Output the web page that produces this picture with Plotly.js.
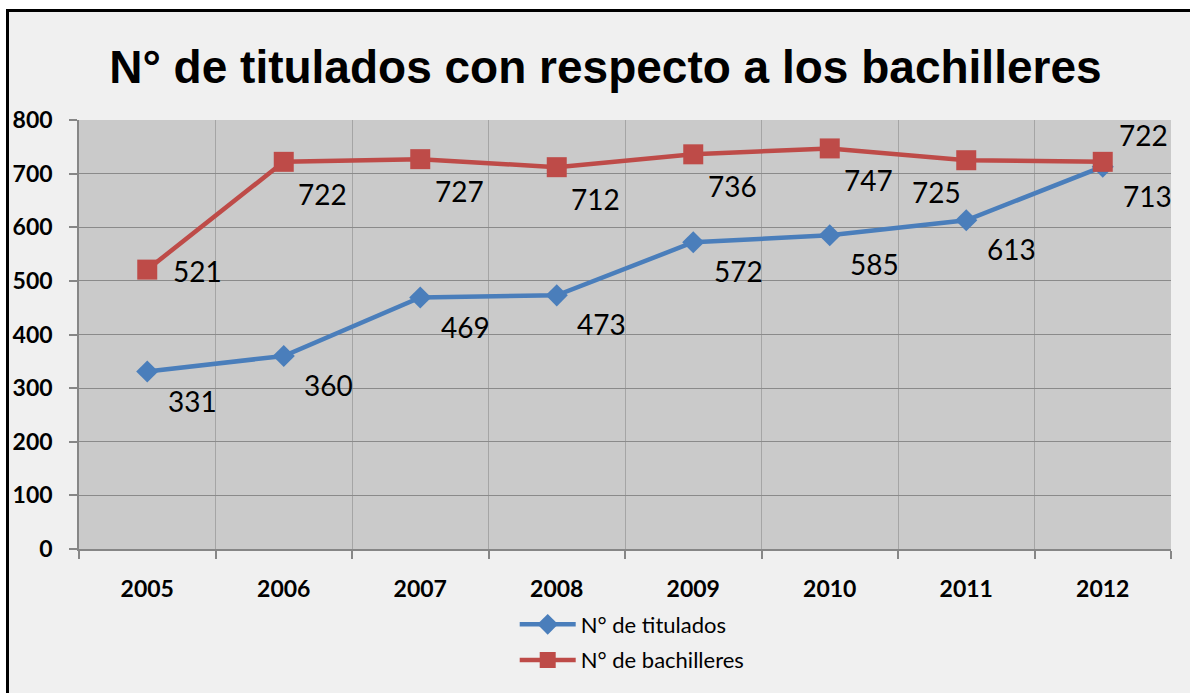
<!DOCTYPE html>
<html>
<head>
<meta charset="utf-8">
<script src="https://cdn.plot.ly/plotly-3.0.1.min.js"></script>
<style>
  html, body { margin: 0; padding: 0; background: #ffffff; }
  #frame { position: absolute; left: 6px; top: 9px; width: 1184px; height: 684px;
           border-top: 3px solid #000; border-left: 3px solid #000; box-sizing: border-box; }
  #chart { position: absolute; left: 0; top: 0; width: 1181px; height: 681px; }
</style>
</head>
<body>
<div id="frame"><div id="chart"></div></div>
<script>
// ---- data ----
var years = ['2005', '2006', '2007', '2008', '2009', '2010', '2011', '2012'];
var titulados = [331, 360, 469, 473, 572, 585, 613, 713];
var bachilleres = [521, 722, 727, 712, 736, 747, 725, 722];
var seriesNames = ['N° de titulados', 'N° de bachilleres'];
// label placement keywords (style)
var tituladosLabelPos = ['br', 'br', 'br', 'br', 'br', 'br', 'br', 'br'];
var bachilleresLabelPos = ['r', 'br', 'br', 'br', 'br', 'br', 'bl', 'tr'];

var blue = '#4a7ebb';
var red = '#be4b48';
var offsetsT = { br: [45, 29] };
var offsetsB = { br: [39, 32], r: [50, 1], bl: [-30, 32], tr: [41, -27] };

var traces = [
  {
    x: years, y: titulados, name: seriesNames[0], type: 'scatter', mode: 'lines+markers',
    line: { color: blue, width: 4.5 },
    marker: { symbol: 'diamond', size: 17, color: blue },
    legendgroup: 'a'
  },
  {
    x: years, y: bachilleres, name: seriesNames[1], type: 'scatter', mode: 'lines+markers',
    line: { color: red, width: 4.5 },
    marker: { symbol: 'square', size: 20, color: red },
    legendgroup: 'b'
  }
];

var annotations = [];
function addLabels(vals, pos, offs) {
  for (var i = 0; i < years.length; i++) {
    var o = offs[pos[i]];
    annotations.push({
      x: i, y: vals[i], xref: 'x', yref: 'y', text: String(vals[i]),
      showarrow: false, xanchor: 'center', yanchor: 'middle',
      xshift: o[0], yshift: -o[1],
      font: { family: 'Lato, sans-serif', size: 28, color: '#000' }
    });
  }
}
addLabels(titulados, tituladosLabelPos, offsetsT);
addLabels(bachilleres, bachilleresLabelPos, offsetsB);

var layout = {
  width: 1181, height: 681,
  paper_bgcolor: '#f0f0f0', plot_bgcolor: '#cacaca',
  margin: { l: 70, r: 19, t: 108, b: 140 },
  title: {
    text: '<b>N° de titulados con respecto a los bachilleres</b>',
    font: { family: 'Liberation Sans, Arial, sans-serif', size: 46, color: '#000' },
    x: 0.505, xanchor: 'center', xref: 'container', y: 0.92, yref: 'container', yanchor: 'middle'
  },
  xaxis: {
    type: 'category', range: [-0.5, 7.5], tickson: 'boundaries',
    showgrid: true, gridcolor: '#a5a5a5', gridwidth: 1,
    showline: true, linecolor: '#868686', linewidth: 1.5,
    ticks: 'outside', ticklen: 8, tickcolor: '#868686', tickwidth: 1.5,
    ticklabelstandoff: 19,
    tickfont: { family: 'Lato, sans-serif', size: 23, color: '#000', weight: 'bold' },
    fixedrange: true, zeroline: false
  },
  yaxis: {
    range: [0, 800], dtick: 100, tick0: 0,
    showgrid: true, gridcolor: '#8a8a8a', gridwidth: 1,
    showline: true, linecolor: '#868686', linewidth: 1.5,
    ticks: 'outside', ticklen: 8, tickcolor: '#868686', tickwidth: 1.5,
    ticklabelstandoff: 12,
    tickfont: { family: 'Lato, sans-serif', size: 23, color: '#000', weight: 'bold' },
    fixedrange: true, zeroline: false
  },
  showlegend: true,
  legend: {
    orientation: 'v', x: 0.399, xanchor: 'left', y: -0.127, yanchor: 'top',
    bgcolor: 'rgba(0,0,0,0)', traceorder: 'grouped', tracegroupgap: 4,
    itemwidth: 56,
    font: { family: 'Lato, sans-serif', size: 22, color: '#000' }
  },
  annotations: annotations
};

Plotly.newPlot('chart', traces, layout, { displayModeBar: false });
</script>
</body>
</html>
